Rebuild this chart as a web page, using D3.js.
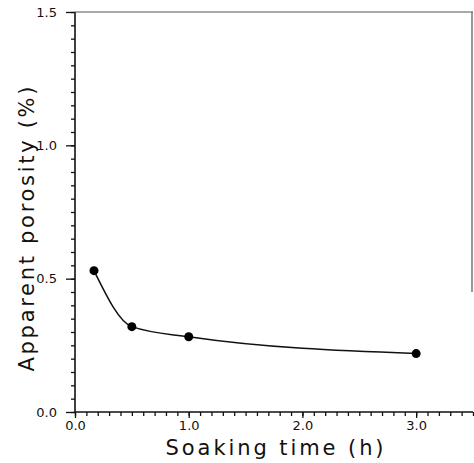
<!DOCTYPE html>
<html>
<head>
<meta charset="utf-8">
<script src="https://cdn.jsdelivr.net/npm/d3@7"></script>
<style>
  body { margin: 0; background: #fff; }
  #chart { width: 474px; height: 463px; }
  text { font-family: "DejaVu Sans", sans-serif; fill: #111; }
</style>
</head>
<body>
<div id="chart"></div>
<script>

// soaking time (h) and apparent porosity (%)
var soakTime = [0.167, 0.5, 1.0, 3.0];
var porosity = [0.53, 0.32, 0.282, 0.219];

var xMajor = [0, 1, 2, 3];
var xMajorLabels = ["0.0", "1.0", "2.0", "3.0"];
var yMajor = [0, 0.5, 1.0, 1.5];
var yMajorLabels = ["0.0", "0.5", "1.0", "1.5"];

var xTitle = "Soaking time (h)";
var yTitle = "Apparent porosity (%)";


var width = 474, height = 463;
var margin = {left: 75, right: 1, top: 12, bottom: 51};

var svg = d3.select("#chart")
    .append("svg")
    .attr("width", width)
    .attr("height", height);

var x = d3.scaleLinear()
    .domain([0, 3.5])
    .range([margin.left, width - margin.right]);

var y = d3.scaleLinear()
    .domain([0, 1.5])
    .range([height - margin.bottom, margin.top]);

var data = soakTime.map(function(t, i) {
    return {t: t, p: porosity[i]};
});

// minor ticks every 0.1 on x, every 0.05 on y
var xMinor = d3.range(0, 3.5001, 0.1);
var yMinor = d3.range(0, 1.5001, 0.05);

var xMinorAxis = svg.append("g")
    .attr("transform", "translate(0," + y(0) + ")")
    .call(d3.axisBottom(x).tickValues(xMinor).tickSize(4).tickFormat(""));

var xAxis = svg.append("g")
    .attr("transform", "translate(0," + y(0) + ")")
    .call(d3.axisBottom(x).tickValues(xMajor).tickSize(6)
        .tickFormat(function(d, i) { return xMajorLabels[i]; }));

var yMinorAxis = svg.append("g")
    .attr("transform", "translate(" + x(0) + ",0)")
    .call(d3.axisLeft(y).tickValues(yMinor).tickSize(4).tickFormat(""));

var yAxis = svg.append("g")
    .attr("transform", "translate(" + x(0) + ",0)")
    .call(d3.axisLeft(y).tickValues(yMajor).tickSize(9)
        .tickFormat(function(d, i) { return yMajorLabels[i]; }));

svg.selectAll(".domain").remove();
svg.selectAll(".tick line").attr("stroke", "#111").attr("stroke-width", 1.3);

xAxis.selectAll("text")
    .attr("font-size", 13)
    .attr("y", 9);

yAxis.selectAll("text")
    .attr("font-size", 13)
    .attr("x", -18);

// frame lines
svg.append("line")
    .attr("x1", x(0)).attr("x2", x(3.5))
    .attr("y1", y(0)).attr("y2", y(0))
    .attr("stroke", "#111").attr("stroke-width", 1.6);

svg.append("line")
    .attr("x1", x(0)).attr("x2", x(0))
    .attr("y1", y(0)).attr("y2", y(1.5))
    .attr("stroke", "#111").attr("stroke-width", 1.6);

svg.append("line")
    .attr("x1", x(0)).attr("x2", x(3.5))
    .attr("y1", y(1.5)).attr("y2", y(1.5))
    .attr("stroke", "#555").attr("stroke-width", 1.2);

svg.append("line")
    .attr("x1", x(3.5) - 1).attr("x2", x(3.5) - 1)
    .attr("y1", y(1.5)).attr("y2", y(0.45))
    .attr("stroke", "#555").attr("stroke-width", 1.2);

// curve through the points
var line = d3.line()
    .x(function(d) { return x(d.t); })
    .y(function(d) { return y(d.p); })
    .curve(d3.curveMonotoneX);

svg.append("path")
    .datum(data)
    .attr("fill", "none")
    .attr("stroke", "#111")
    .attr("stroke-width", 1.5)
    .attr("d", line);

svg.selectAll("circle")
    .data(data)
    .enter()
    .append("circle")
        .attr("cx", function(d) { return x(d.t); })
        .attr("cy", function(d) { return y(d.p); })
        .attr("r", 4.5)
        .attr("fill", "#000");

// axis titles
svg.append("text")
    .attr("x", (x(0) + x(3.0)) / 2 + 29)
    .attr("y", 455)
    .attr("text-anchor", "middle")
    .attr("font-size", 21)
    .attr("textLength", 218)
    .text(xTitle);

svg.append("text")
    .attr("transform", "translate(34," + 229 + ") rotate(-90)")
    .attr("text-anchor", "middle")
    .attr("font-size", 21)
    .attr("textLength", 285)
    .text(yTitle);

</script>
</body>
</html>
